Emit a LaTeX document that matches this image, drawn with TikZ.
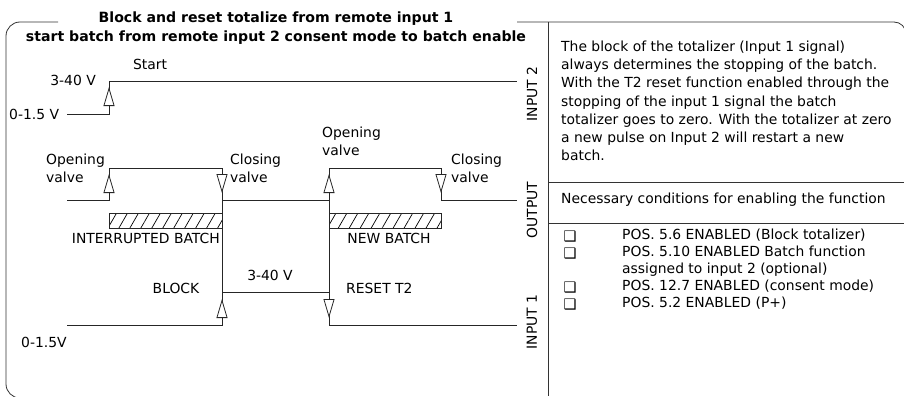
\documentclass[tikz,border=0pt]{standalone}
\usepackage{fontspec}
\setmainfont{DejaVu Sans}
\usetikzlibrary{arrows.meta,patterns.meta,positioning}
\tikzset{
    frame/.style={draw=black!80,line width=0.8pt},
    sig/.style={draw=black!85,line width=0.9pt},
    lbl/.style={inner sep=0pt,font=\fontsize{13.9}{18.1}\selectfont},
    ttl/.style={inner sep=0pt,font=\fontsize{14.1}{18}\selectfont\bfseries},
    edgemark/.style={draw=black!85,line width=0.8pt,-{Triangle[length=19pt,width=11pt,fill=white]}},
    hatch/.style={draw=black!85,line width=0.8pt,pattern={Lines[angle=60,distance=9.5pt,line width=0.7pt]}},
    chk/.style={inner sep=0pt,font=\fontsize{14.5}{15}\selectfont},
}

\begin{document}
\begin{tikzpicture}[x=1pt,y=-1pt]
    \useasboundingbox (0,0) rectangle (904,396);
    \begin{scope}
        \clip (0,0) rectangle (904,396);
        \draw[frame,rounded corners=14pt] (58,22) -- (6,22) -- (6,398) -- (60,398);
        \draw[frame,rounded corners=12pt] (517,22) -- (906,22) -- (906,60);
    \end{scope}
    \draw[frame] (548,22) -- (548,396);
    \draw[frame] (548,182) -- (904,182);
    \draw[frame] (548,223) -- (904,223);

    % title
    \node[ttl] (title1) at (276,19) {Block and reset totalize from remote input 1};
    \node[ttl] (title2) at (276,38) {start batch from remote input 2 consent mode to batch enable};

    % signals
    \draw[sig] (67,114) -| (109,81) -- (517,81);
    \draw[sig] (67,200) -| (109,168) -| (222,200) -| (329,168) -| (441,200) -- (517,200);
    \draw[sig] (222,200) -- (222,292);
    \draw[sig] (329,200) -- (329,292);
    \draw[sig] (67,325) -| (222,292) -| (329,325) -- (517,325);

    \draw[hatch] (109,213) rectangle (222,228);
    \draw[hatch] (329,213) rectangle (441,228);

    \draw[edgemark] (109,106) -- (109,87);
    \draw[edgemark] (109,193) -- (109,174);
    \draw[edgemark] (222,174) -- (222,193);
    \draw[edgemark] (329,193) -- (329,174);
    \draw[edgemark] (441,174) -- (441,193);
    \draw[edgemark] (222,318) -- (222,299);
    \draw[edgemark] (329,299) -- (329,318);

    % labels
    \node[lbl,anchor=mid] (start) at (150,67) {Start};
    \node[lbl,anchor=mid east] (high2) at (96,83) {3-40 V};
    \node[lbl,anchor=mid west] (low2) at (9,117) {0-1.5 V};
    \node[lbl,align=left,anchor=west] (openA) at (46,168) {Opening\\valve};
    \node[lbl,align=left,anchor=west] (closeA) at (230,168) {Closing\\valve};
    \node[lbl,align=left,anchor=west] (openB) at (322,141) {Opening\\valve};
    \node[lbl,align=left,anchor=west] (closeB) at (451,168) {Closing\\valve};
    \node[lbl,anchor=mid east] (interrupt) at (220,241) {INTERRUPTED BATCH};
    \node[lbl,anchor=mid] (newbatch) at (389,241) {NEW BATCH};
    \node[lbl,anchor=mid] (high1) at (270,278) {3-40 V};
    \node[lbl,anchor=mid] (block) at (176,291) {BLOCK};
    \node[lbl,anchor=mid west] (reset) at (346,291) {RESET T2};
    \node[lbl,anchor=mid west] (low1) at (21,345) {0-1.5V};
    \node[lbl,rotate=90] (in2) at (532,94) {INPUT 2};
    \node[lbl,rotate=90] (out) at (532,210) {OUTPUT};
    \node[lbl,rotate=90] (in1) at (532,322) {INPUT 1};

    % right panel
    \node[lbl,align=left,anchor=north west] (desc) at (561,41) {The block of the totalizer (Input 1 signal)\\
        always determines the stopping of the batch.\\
        With the T2 reset function enabled through the\\
        stopping of the input 1 signal the batch\\
        totalizer goes to zero. With the totalizer at zero\\
        a new pulse on Input 2 will restart a new\\
        batch.};
    \node[lbl,anchor=mid west] (need) at (561,201) {Necessary conditions for enabling the function};
    \foreach \y in {237,254,288,305}
        \node[chk] at (570,\y) {❑};
    \node[lbl,anchor=mid west] (pos1) at (622,237) {POS. 5.6 ENABLED (Block totalizer)};
    \node[lbl,anchor=mid west] (pos2) at (622,254) {POS. 5.10 ENABLED Batch function};
    \node[lbl,anchor=mid west] (pos2b) at (622,271) {assigned to input 2 (optional)};
    \node[lbl,anchor=mid west] (pos3) at (622,288) {POS. 12.7 ENABLED (consent mode)};
    \node[lbl,anchor=mid west] (pos4) at (622,305) {POS. 5.2 ENABLED (P+)};
\end{tikzpicture}
\end{document}
